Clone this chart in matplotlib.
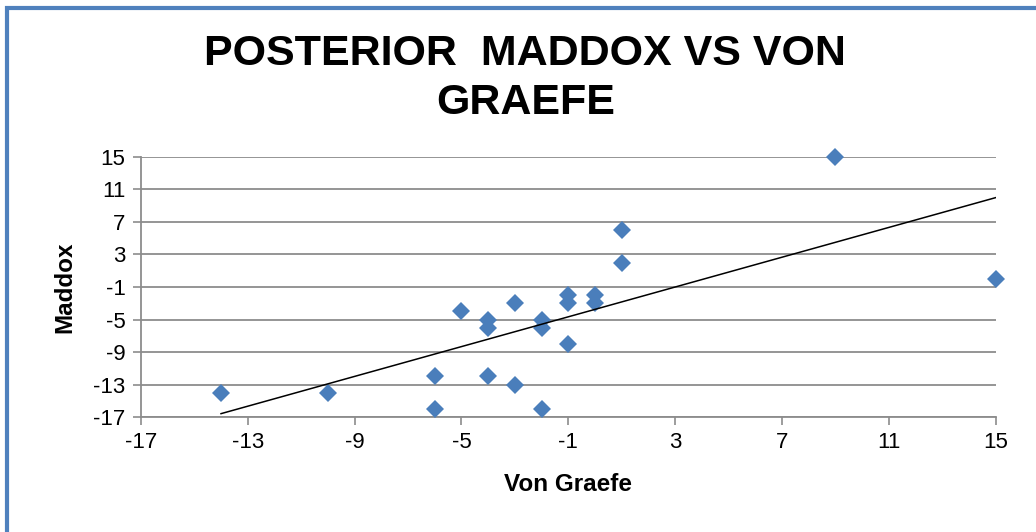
import numpy as np
import matplotlib.pyplot as plt
from matplotlib.patches import Rectangle

plt.rcParams['font.family'] = ['Liberation Sans', 'DejaVu Sans']
plt.rcParams['axes.unicode_minus'] = False

# Data
von_graefe = [-14, -10, -6, -6, -5, -4, -4, -4, -3, -3, -2, -2, -2,
              -1, -1, -1, 0, 0, 1, 1, 9, 15]
maddox = [-14, -14, -12, -16, -4, -5, -6, -12, -3, -13, -5, -6, -16,
          -2, -3, -8, -2, -3, 6, 2, 15, 0]
ticks = list(range(-17, 16, 4))

GRID = "#8c8c8c"
BLUE = "#4a7ebb"

fig = plt.figure(figsize=(10.36, 5.32), dpi=100)
ax = fig.add_axes([0.136, 0.216, 0.825, 0.489])

ax.plot(von_graefe, maddox, linestyle="none", marker="D",
        markersize=9.5, color=BLUE, markeredgewidth=0, zorder=3,
        clip_on=False)

# linear trend line
slope, icept = np.polyfit(von_graefe, maddox, 1)
xs = np.array([min(von_graefe), max(von_graefe)])
ax.plot(xs, slope * xs + icept, color="black", linewidth=1.1, zorder=4)

ax.set_xlim(-17, 15)
ax.set_ylim(-17, 15)
ax.set_xticks(ticks)
ax.set_yticks(ticks)
ax.tick_params(labelsize=16, color=GRID, length=6, width=1.2, pad=5)
ax.yaxis.grid(True, color=GRID, linewidth=1.3)
ax.set_axisbelow(True)
for s in ["top", "right"]:
    ax.spines[s].set_visible(False)
for s in ["left", "bottom"]:
    ax.spines[s].set_color(GRID)
    ax.spines[s].set_linewidth(1.3)
ax.spines["left"].set_zorder(0.5)

ax.set_xlabel("Von Graefe", fontsize=17.5, fontweight="bold", labelpad=14)
ax.set_ylabel("Maddox", fontsize=17.5, fontweight="bold", labelpad=12)

fig.text(0.507, 0.852, "POSTERIOR  MADDOX VS VON\nGRAEFE", ha="center",
         va="center", fontsize=31, fontweight="bold", linespacing=1.3)

# chart frame (only left/top visible in the crop)
fig.patches.append(Rectangle((7 / 1036, -0.1), 1.2, 1 - 8 / 532 + 0.1,
                             transform=fig.transFigure, fill=False,
                             edgecolor="#4f81bd", linewidth=3, clip_on=False))

fig.savefig("out.png", dpi=100)
